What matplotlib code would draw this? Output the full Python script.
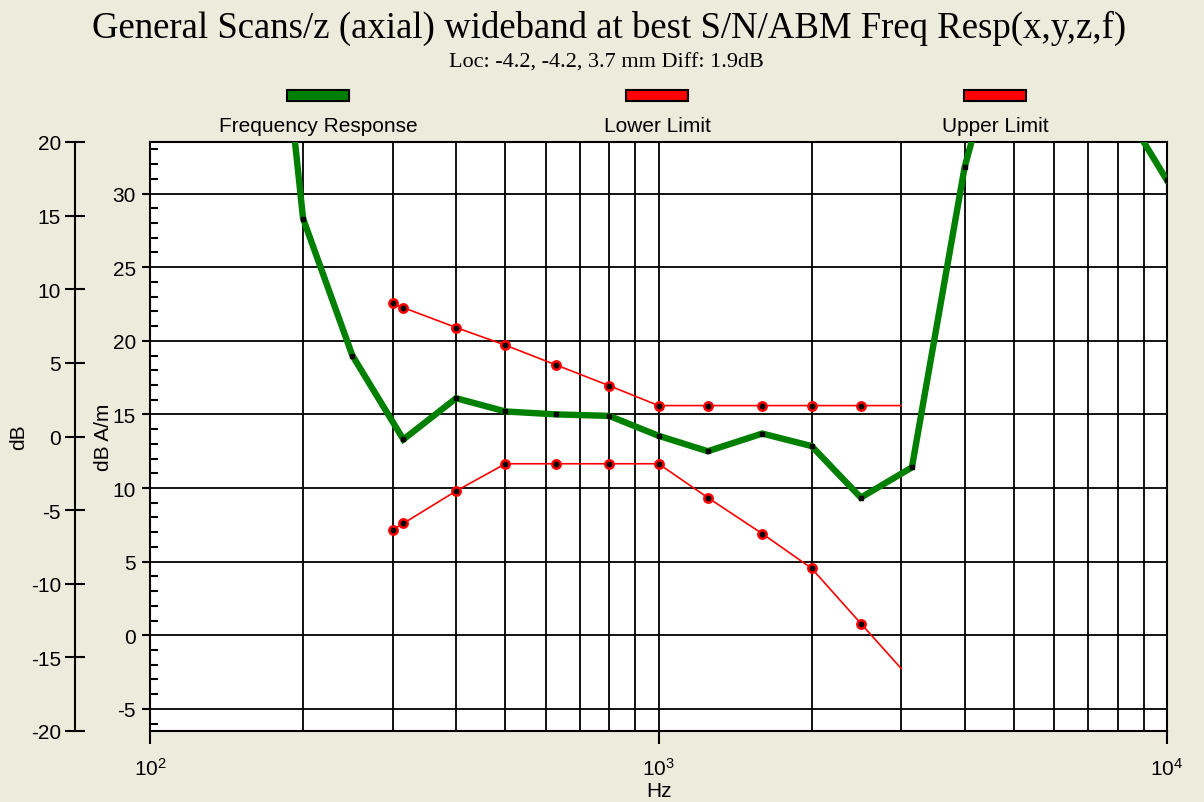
import matplotlib
matplotlib.use("Agg")
import matplotlib.pyplot as plt
from matplotlib.patches import Rectangle
from matplotlib.ticker import LogLocator, MultipleLocator, NullFormatter

# 数据 (从图上读取, dB A/m)
resp_freq = [160, 200, 250, 315, 400, 500, 630, 800, 1000, 1250, 1600,
             2000, 2500, 3150, 4000, 5000, 6300, 8000, 10000]
resp_db = [60.0, 28.3, 19.0, 13.3, 16.1, 15.2, 15.0, 14.9, 13.55, 12.5, 13.7,
           12.85, 9.35, 11.4, 31.8, 44.0, 48.0, 36.4, 30.9]

limit_freq = [300, 315, 400, 500, 630, 800, 1000, 1250, 1600, 2000, 2500, 3000]
upper_db = [22.55, 22.25, 20.9, 19.7, 18.35, 16.95, 15.6, 15.6, 15.6, 15.6, 15.6, 15.6]
lower_db = [7.15, 7.6, 9.8, 11.65, 11.65, 11.65, 11.65, 9.35, 6.9, 4.55, 0.8, -2.25]

outer_ticks = [-20, -15, -10, -5, 0, 5, 10, 15, 20]
inner_ticks = [-5, 0, 5, 10, 15, 20, 25, 30]
offset = 13.5  # dB A/m = dB + offset

title = "General Scans/z (axial) wideband at best S/N/ABM Freq Resp(x,y,z,f)"
subtitle = "Loc: -4.2, -4.2, 3.7 mm Diff: 1.9dB"
legend_names = ["Frequency Response", "Lower Limit", "Upper Limit"]
legend_colors = ["#008000", "#ff0000", "#ff0000"]

bg = "#ecebdc"
W, H = 1204, 803
plt.rcParams['font.family'] = ['Liberation Sans', 'DejaVu Sans']
plt.rcParams['axes.unicode_minus'] = False

fig = plt.figure(figsize=(W / 100, H / 100), dpi=100, facecolor=bg)
ax = fig.add_axes([150 / W, 1 - 732 / H, (1167 - 150) / W, (732 - 143) / H])
ax.set_facecolor("white")

ax.set_xscale("log")
ax.set_xlim(100, 10000)
ax.set_ylim(-20 + offset, 20 + offset)

# 网格
ax.xaxis.set_minor_locator(LogLocator(base=10, subs=range(2, 10)))
ax.xaxis.set_minor_formatter(NullFormatter())
ax.set_yticks(inner_ticks)
ax.yaxis.set_minor_locator(MultipleLocator(1))
ax.grid(True, which="both", axis="x", color="black", lw=1.3)
ax.grid(True, which="major", axis="y", color="black", lw=1.3)
ax.set_axisbelow(True)

ax.tick_params(axis="x", which="major", direction="out", length=9.5, width=1.5,
               labelsize=15, pad=9)
ax.tick_params(axis="x", which="minor", length=0)
ax.tick_params(axis="y", which="major", direction="out", length=6, width=1.5,
               labelsize=15, pad=4)
ax.tick_params(axis="y", which="minor", direction="in", length=6, width=1.5)
for s in ax.spines.values():
    s.set_linewidth(1.5)

ax.set_xlabel("Hz", fontsize=15, labelpad=2)
ax.set_ylabel("dB A/m", fontsize=15, labelpad=0)

# 曲线
ax.plot(resp_freq, resp_db, color="#008000", lw=4.6, zorder=5,
        marker="s", ms=3, mfc="black", mec="black", solid_joinstyle="miter")
for vals in (upper_db, lower_db):
    ax.plot(limit_freq, vals, color="#ff0000", lw=1.2, zorder=4,
            marker="o", ms=6, mfc="black", mec="#ff0000", mew=1.8,
            markevery=slice(0, -1))

# 外侧 dB 轴
sec = ax.secondary_yaxis(-75 / 1017, functions=(lambda y: y - offset, lambda y: y + offset))
sec.set_yticks(outer_ticks)
sec.tick_params(axis="y", direction="inout", length=14, width=1.5, labelsize=15, pad=3)
sec.spines["left"].set_linewidth(1.5)
sec.set_ylabel("dB", fontsize=15, labelpad=2)

# 标题
fig.text(609 / W, 1 - 28 / H, title, ha="center", va="center", fontsize=26.5,
         family="Liberation Serif")
fig.text(606 / W, 1 - 63 / H, subtitle, ha="center", va="center", fontsize=16,
         family="Liberation Serif")

# 图例
for cx, name, col in zip([318, 657, 995], legend_names, legend_colors):
    fig.patches.append(Rectangle(((cx - 31) / W, 1 - 102 / H), 62 / W, 11 / H,
                                 transform=fig.transFigure, facecolor=col,
                                 edgecolor="black", lw=1.5))
    fig.text(cx / W, 1 - 126 / H, name, ha="center", va="center", fontsize=15)

fig.savefig("out.png", dpi=100, facecolor=bg)
